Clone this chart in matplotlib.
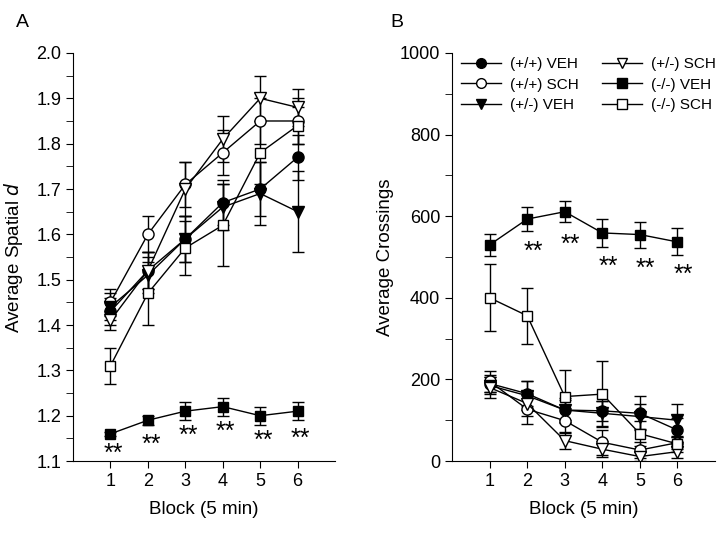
import matplotlib.pyplot as plt
from matplotlib.lines import Line2D
from matplotlib.ticker import MultipleLocator

plt.rcParams['font.family'] = ['Liberation Sans', 'DejaVu Sans']

blocks = [1, 2, 3, 4, 5, 6]
groups = ['(+/+) VEH', '(+/+) SCH', '(+/-) VEH', '(+/-) SCH', '(-/-) VEH', '(-/-) SCH']

# panel A: average spatial d
spatial_mean = {
    '(+/+) VEH': [1.43, 1.52, 1.59, 1.67, 1.70, 1.77],
    '(+/+) SCH': [1.45, 1.60, 1.71, 1.78, 1.85, 1.85],
    '(+/-) VEH': [1.44, 1.51, 1.59, 1.66, 1.69, 1.65],
    '(+/-) SCH': [1.41, 1.52, 1.70, 1.81, 1.90, 1.88],
    '(-/-) VEH': [1.16, 1.19, 1.21, 1.22, 1.20, 1.21],
    '(-/-) SCH': [1.31, 1.47, 1.57, 1.62, 1.78, 1.84],
}
spatial_err = {
    '(+/+) VEH': [0.03, 0.04, 0.05, 0.05, 0.06, 0.05],
    '(+/+) SCH': [0.03, 0.04, 0.05, 0.05, 0.05, 0.05],
    '(+/-) VEH': [0.03, 0.04, 0.05, 0.05, 0.07, 0.09],
    '(+/-) SCH': [0.02, 0.04, 0.06, 0.05, 0.05, 0.04],
    '(-/-) VEH': [0.005, 0.01, 0.02, 0.02, 0.02, 0.02],
    '(-/-) SCH': [0.04, 0.07, 0.06, 0.09, 0.07, 0.04],
}
star_a_y = [1.115, 1.135, 1.155, 1.165, 1.145, 1.15]

# panel B: average crossings
cross_mean = {
    '(+/+) VEH': [190, 165, 125, 123, 117, 76],
    '(+/+) SCH': [195, 127, 99, 46, 27, 45],
    '(+/-) VEH': [185, 160, 125, 117, 109, 100],
    '(+/-) SCH': [180, 141, 50, 29, 11, 23],
    '(-/-) VEH': [530, 593, 611, 559, 555, 537],
    '(-/-) SCH': [400, 356, 158, 164, 67, 42],
}
cross_err = {
    '(+/+) VEH': [20, 30, 25, 25, 42, 30],
    '(+/+) SCH': [25, 35, 30, 30, 20, 15],
    '(+/-) VEH': [20, 35, 30, 30, 30, 41],
    '(+/-) SCH': [25, 30, 20, 20, 10, 15],
    '(-/-) VEH': [27, 29, 26, 34, 32, 33],
    '(-/-) SCH': [82, 69, 65, 80, 30, 20],
}
star_b_blocks = [2, 3, 4, 5, 6]
star_b_y = [512, 531, 475, 471, 457]

styles = {
    '(+/+) VEH': ('o', 'black'),
    '(+/+) SCH': ('o', 'white'),
    '(+/-) VEH': ('v', 'black'),
    '(+/-) SCH': ('v', 'white'),
    '(-/-) VEH': ('s', 'black'),
    '(-/-) SCH': ('s', 'white'),
}

fig = plt.figure(figsize=(7.2, 5.33), dpi=100)
axA = fig.add_axes([0.1014, 0.135, 0.364, 0.7656])
axB = fig.add_axes([0.628, 0.135, 0.365, 0.7656])


def draw(ax, means, errs):
    for g in groups:
        m, fc = styles[g]
        ax.errorbar(blocks, means[g], yerr=errs[g], color='black', lw=1,
                    elinewidth=1, capsize=4, capthick=1, marker=m,
                    markersize=8 if m != 's' else 7.5, mfc=fc, mec='black',
                    mew=1)


draw(axA, spatial_mean, spatial_err)
draw(axB, cross_mean, cross_err)

for b, y in zip(blocks, star_a_y):
    axA.text(b + 0.08, y, '**', ha='center', va='center', fontsize=18)
for b, y in zip(star_b_blocks, star_b_y):
    axB.text(b + 0.15, y, '**', ha='center', va='center', fontsize=18)

for ax in (axA, axB):
    ax.set_xlim(0, 7)
    ax.set_xticks(blocks)
    ax.spines['top'].set_visible(False)
    ax.spines['right'].set_visible(False)
    ax.tick_params(direction='out', labelsize=13, length=5)
    ax.tick_params(which='minor', direction='out', length=5)
    ax.set_xlabel('Block (5 min)', fontsize=13.5, labelpad=8)

axA.set_ylim(1.1, 2.0)
axA.yaxis.set_major_locator(MultipleLocator(0.1))
axA.yaxis.set_minor_locator(MultipleLocator(0.05))
axA.set_ylabel('Average Spatial $\\it{d}$', fontsize=13.5, labelpad=8)

axB.set_ylim(0, 1000)
axB.yaxis.set_major_locator(MultipleLocator(200))
axB.yaxis.set_minor_locator(MultipleLocator(100))
axB.set_ylabel('Average Crossings', fontsize=13.5)

handles = []
for g in groups:
    m, fc = styles[g]
    handles.append(Line2D([], [], color='black', lw=1, marker=m, markersize=7,
                          mfc=fc, mec='black', mew=1))
axB.legend(handles, groups, ncol=2, loc='upper left',
           bbox_to_anchor=(0.0, 1.012), frameon=False, fontsize=11,
           handlelength=2.6, columnspacing=1.5, labelspacing=0.42,
           handletextpad=0.6, borderaxespad=0.2)

fig.text(0.022, 0.949, 'A', fontsize=14)
fig.text(0.542, 0.949, 'B', fontsize=14)

fig.savefig('out.png', dpi=100)
